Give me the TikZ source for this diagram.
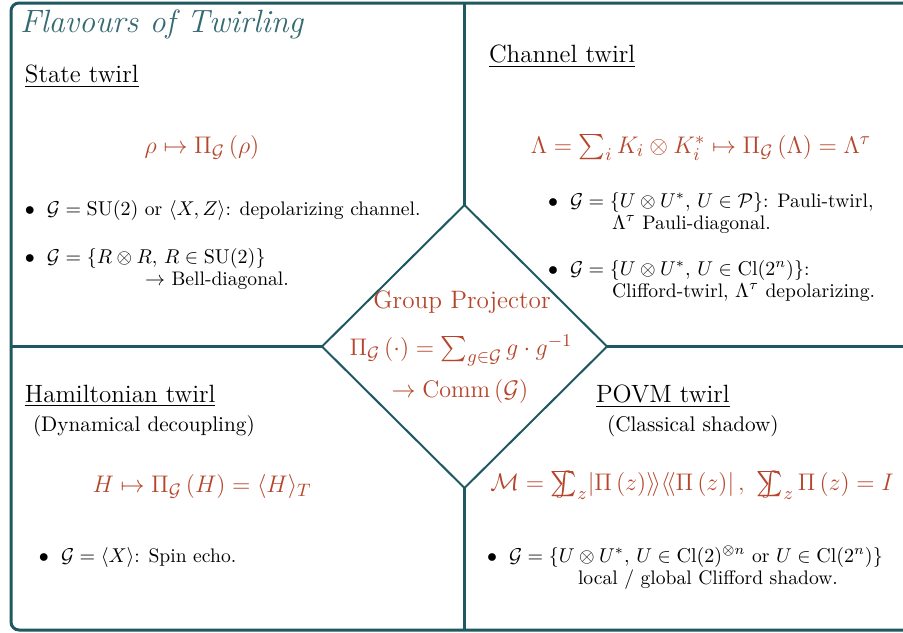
\documentclass[tikz,border=0pt]{standalone}
\definecolor{frameteal}{HTML}{1E5962}
\definecolor{mathrust}{HTML}{B5462B}
\usepackage{amsmath,amssymb}
\usetikzlibrary{shapes.geometric}
\newcommand{\sumint}{\mathop{\ooalign{$\sum$\cr\hidewidth$\int$\hidewidth\cr}}\nolimits}
\newcommand{\oneitem}[1]{\begin{tabular}[t]{@{}l@{\hspace{6pt}}l@{}}$\bullet$ & #1\end{tabular}}
\newcommand{\twoitem}[3]{\begin{tabular}[t]{@{}l@{\hspace{6pt}}l@{}}$\bullet$ & #2\\[-1pt] & \hspace{#1}#3\end{tabular}}

\begin{document}
\begin{tikzpicture}[
  x=0.5pt, y=-0.5pt,
  every node/.style={inner sep=0pt, outer sep=0pt, font=\fontsize{9.8}{12}\selectfont},
  frm/.style={draw=frameteal, line width=1.5pt},
  head/.style={anchor=base west, font=\fontsize{12.5}{15}\selectfont},
  note/.style={anchor=base west, font=\fontsize{10.6}{13}\selectfont},
  eqn/.style={anchor=base, text=mathrust, font=\fontsize{12.6}{15}\selectfont},
  blt/.style={anchor=base west}
]
  \useasboundingbox (0,0) rectangle (903,632);
  \clip (0,0) rectangle (903,632);

  % frame, diamond and dividers
  \draw[frm, rounded corners=4pt] (11,3) rectangle (930,630);
  \node[shape=diamond, draw=frameteal, line width=1pt,
        minimum width=142.5pt, minimum height=141.5pt] (proj) at (464.5,346.5) {};
  \coordinate (ftop) at (0,3);
  \coordinate (fbot) at (0,630);
  \coordinate (fleft) at (11,0);
  \coordinate (fright) at (930,0);
  \draw[frm] (proj.north) -- (proj.north |- ftop);
  \draw[frm] (proj.south) -- (proj.south |- fbot);
  \draw[frm] (proj.west) -- (proj.west -| fleft);
  \draw[frm] (proj.east) -- (proj.east -| fright);

  \node[anchor=base west, text=frameteal!90, font=\fontsize{16.1}{19}\selectfont\itshape]
    (title) at (20,32) {Flavours of Twirling};

  % group projector
  \node[eqn] (projname) at (462,308) {Group Projector};
  \node[eqn] (projmap)  at (461,355) {$\Pi_{\mathcal{G}}\left(\cdot\right) = \sum_{g\in\mathcal{G}} g\cdot g^{-1}$};
  \node[eqn] (projcomm) at (460,397) {$\to \mathrm{Comm}\left(\mathcal{G}\right)$};

  % state twirl
  \node[head] (statehead) at (25,82) {\underline{State twirl}};
  \node[eqn] (stateeq) at (202,153) {$\rho \mapsto \Pi_{\mathcal{G}}\left(\rho\right)$};
  \node[blt] (statea) at (25,215) {\oneitem{$\mathcal{G} = \mathrm{SU}(2)$ or $\langle X, Z\rangle$: depolarizing channel.}};
  \node[blt] (stateb) at (25,263) {\twoitem{49pt}{$\mathcal{G} = \{R\otimes R,\, R\in\mathrm{SU}(2)\}$}{$\to$ Bell-diagonal.}};

  % channel twirl
  \node[head] (chanhead) at (489,62) {\underline{Channel twirl}};
  \node[eqn] (chaneq) at (701,153) {$\Lambda = \sum_i K_i \otimes K_i^{*} \mapsto \Pi_{\mathcal{G}}\left(\Lambda\right) = \Lambda^{\tau}$};
  \node[blt] (chana) at (548,207) {\twoitem{21pt}{$\mathcal{G} = \{U\otimes U^{*},\, U\in\mathcal{P}\}$: Pauli-twirl,}{$\Lambda^{\tau}$ Pauli-diagonal.}};
  \node[blt] (chanb) at (548,275) {\twoitem{21pt}{$\mathcal{G} = \{U\otimes U^{*},\, U\in\mathrm{Cl}(2^n)\}$:}{Clifford-twirl, $\Lambda^{\tau}$ depolarizing.}};

  % hamiltonian twirl
  \node[head] (hamhead) at (25,402) {\underline{Hamiltonian twirl}};
  \node[note] (hamnote) at (33,431) {(Dynamical decoupling)};
  \node[eqn] (hameq) at (202,492) {$H \mapsto \Pi_{\mathcal{G}}\left(H\right) = \langle H\rangle_T$};
  \node[blt] (hama) at (39,562) {\oneitem{$\mathcal{G} = \langle X\rangle$: Spin echo.}};

  % povm twirl
  \node[head] (povmhead) at (596,402) {\underline{POVM twirl}};
  \node[note] (povmnote) at (607,431) {(Classical shadow)};
  \node[eqn] (povmeq) at (692,490) {$\mathcal{M} = \sumint_z \lvert\Pi\left(z\right)\rangle\!\rangle\langle\!\langle\Pi\left(z\right)\rvert\,,\ \sumint_z \Pi\left(z\right) = I$};
  \node[blt] (povma) at (487,562) {\twoitem{34.5pt}{$\mathcal{G} = \{U\otimes U^{*},\, U\in\mathrm{Cl}(2)^{\otimes n}$ or $U\in\mathrm{Cl}(2^n)\}$}{local / global Clifford shadow.}};
\end{tikzpicture}
\end{document}
